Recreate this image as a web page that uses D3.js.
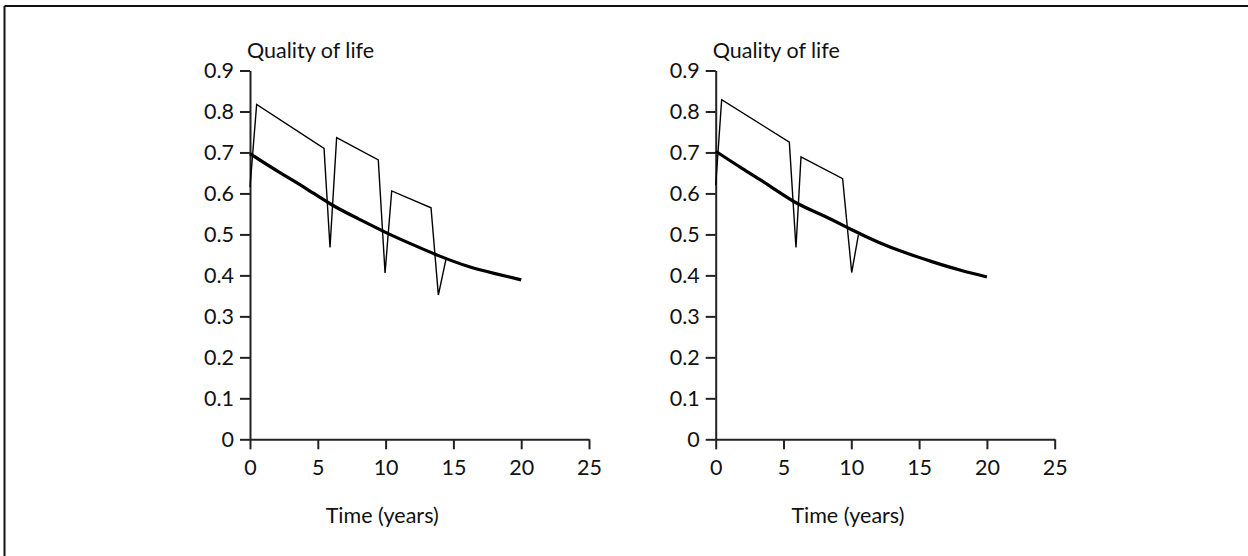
<!DOCTYPE html>
<html>
<head>
<meta charset="utf-8">
<script src="https://cdn.jsdelivr.net/npm/d3@7"></script>
<style>
  body { margin: 0; background: #fff; }
  svg { display: block; }
  text { font-family: Lato, "Open Sans", sans-serif; fill: #111; }
</style>
</head>
<body>
<svg id="chart" width="1248" height="556"></svg>
<script>
// Axis ticks and labels
const xTicks = [0, 5, 10, 15, 20, 25];
const yTicks = [0, 0.1, 0.2, 0.3, 0.4, 0.5, 0.6, 0.7, 0.8, 0.9];
const yTickLabels = ["0", "0.1", "0.2", "0.3", "0.4", "0.5", "0.6", "0.7", "0.8", "0.9"];
const yTitle = "Quality of life";
const xTitle = "Time (years)";

// Left panel: natural decline (smooth) and treatment cycles (saw-tooth)
const declineYearsA = [0, 2, 4, 6, 8, 10, 12, 14, 16, 18, 20];
const declineQolA   = [0.697, 0.655, 0.615, 0.573, 0.538, 0.505, 0.475, 0.447, 0.423, 0.405, 0.389];
const cycleYearsA = [0, 0.49, 5.46, 5.9, 6.39, 9.46, 9.96, 10.45, 13.35, 13.89, 14.45];
const cycleQolA   = [0.615, 0.817, 0.71, 0.468, 0.736, 0.682, 0.406, 0.606, 0.565, 0.352, 0.439];

// Right panel
const declineYearsB = [0, 2, 4, 6, 8, 10, 12, 14, 16, 18, 20];
const declineQolB   = [0.703, 0.66, 0.618, 0.576, 0.545, 0.512, 0.481, 0.455, 0.433, 0.413, 0.396];
const cycleYearsB = [0, 0.44, 5.43, 5.92, 6.29, 9.36, 10.03, 10.52];
const cycleQolB   = [0.62, 0.829, 0.725, 0.468, 0.689, 0.636, 0.407, 0.498];

const svg = d3.select("#chart");

// Outer frame: top and left rules
svg.append("line").attr("x1", 4.5).attr("y1", 6).attr("x2", 1248).attr("y2", 6)
  .attr("stroke", "#111").attr("stroke-width", 2);
svg.append("line").attr("x1", 4.5).attr("y1", 6).attr("x2", 4.5).attr("y2", 556)
  .attr("stroke", "#111").attr("stroke-width", 2);

const panels = [
  { left: 250, decline: [declineYearsA, declineQolA], cycle: [cycleYearsA, cycleQolA] },
  { left: 715.7, decline: [declineYearsB, declineQolB], cycle: [cycleYearsB, cycleQolB] }
];

const plotW = 339, plotTop = 70.5, plotBottom = 439.3;
const fontSize = 21.5;

panels.forEach(p => {
  const g = svg.append("g").attr("transform", `translate(${p.left},0)`);
  const x = d3.scaleLinear().domain([0, 25]).range([0, plotW]);
  const y = d3.scaleLinear().domain([0, 0.9]).range([plotBottom, plotTop]);

  const yAxis = d3.axisLeft(y).tickValues(yTicks)
    .tickFormat((d, i) => yTickLabels[i]).tickSize(10).tickSizeOuter(0).tickPadding(6);
  const xAxis = d3.axisBottom(x).tickValues(xTicks)
    .tickFormat(d3.format("d")).tickSize(10).tickSizeOuter(0).tickPadding(10);

  const ya = g.append("g").call(yAxis);
  const xa = g.append("g").attr("transform", `translate(0,${plotBottom})`).call(xAxis);
  [ya, xa].forEach(a => {
    a.selectAll("path, line").attr("stroke", "#222").attr("stroke-width", 2);
    a.selectAll("text").attr("font-size", fontSize).attr("fill", "#111")
      .style("font-family", "Lato, 'Open Sans', sans-serif");
  });

  g.append("text").attr("x", -3).attr("y", 58).attr("font-size", fontSize).text(yTitle);
  g.append("text").attr("x", x(9.75)).attr("y", 523).attr("text-anchor", "middle")
    .attr("font-size", fontSize).text(xTitle);

  const line = d3.line().x(d => x(d[0])).y(d => y(d[1]));
  const cyc = d3.zip(p.cycle[0], p.cycle[1]);
  g.append("path").attr("d", line(cyc)).attr("fill", "none")
    .attr("stroke", "#000").attr("stroke-width", 1.4).attr("stroke-linejoin", "miter");

  const dec = d3.zip(p.decline[0], p.decline[1]);
  g.append("path").attr("d", line.curve(d3.curveNatural)(dec)).attr("fill", "none")
    .attr("stroke", "#000").attr("stroke-width", 3.2);
});
</script>
</body>
</html>
